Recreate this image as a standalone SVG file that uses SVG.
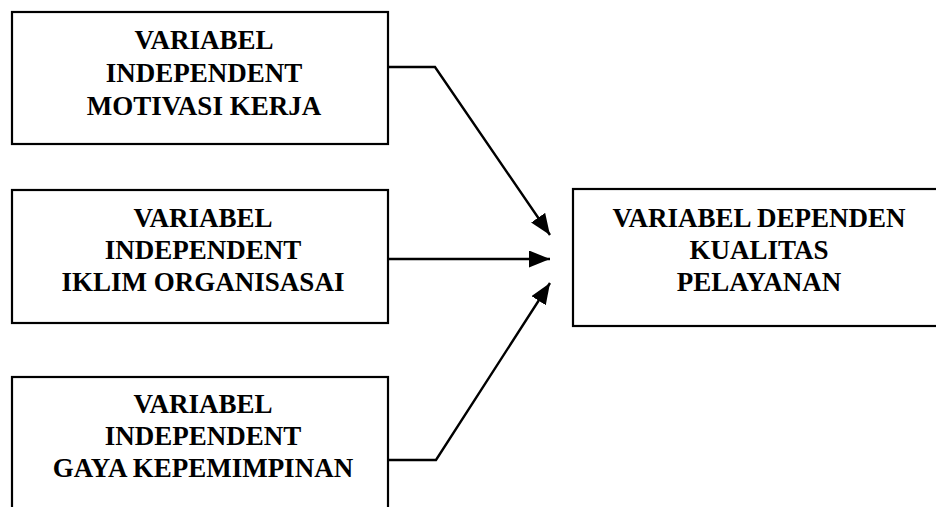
<svg xmlns="http://www.w3.org/2000/svg" width="936" height="507" viewBox="0 0 936 507">
  <style>
    .box { fill: #ffffff; stroke: #000000; stroke-width: 2.2; }
    .lbl { font-family: "Liberation Serif", "Times New Roman", serif; font-weight: bold; font-size: 27px; fill: #000000; text-anchor: middle; }
    .conn { fill: none; stroke: #000000; stroke-width: 2.4; stroke-linejoin: miter; }
  </style>
  <defs>
    <marker id="arrow" markerUnits="userSpaceOnUse" markerWidth="22" markerHeight="18" refX="21" refY="8.5" orient="auto">
      <path d="M0,0 L21,8.5 L0,17 z" fill="#000000"/>
    </marker>
  </defs>
  <rect width="936" height="507" fill="#ffffff"/>

  <g id="node-motivasi">
    <rect class="box" x="12" y="12" width="376" height="132"/>
    <text class="lbl" x="204" y="49">VARIABEL</text>
    <text class="lbl" x="204" y="82">INDEPENDENT</text>
    <text class="lbl" x="204" y="115">MOTIVASI KERJA</text>
  </g>

  <g id="node-iklim">
    <rect class="box" x="12" y="190" width="376" height="133"/>
    <text class="lbl" x="203" y="227">VARIABEL</text>
    <text class="lbl" x="203" y="259">INDEPENDENT</text>
    <text class="lbl" x="203" y="291">IKLIM ORGANISASAI</text>
  </g>

  <g id="node-gaya">
    <rect class="box" x="12" y="377" width="376" height="140"/>
    <text class="lbl" x="203" y="413">VARIABEL</text>
    <text class="lbl" x="203" y="445">INDEPENDENT</text>
    <text class="lbl" x="203" y="477">GAYA KEPEMIMPINAN</text>
  </g>

  <g id="node-kualitas">
    <rect class="box" x="573" y="189" width="370" height="137"/>
    <text class="lbl" x="759" y="227">VARIABEL DEPENDEN</text>
    <text class="lbl" x="759" y="259">KUALITAS</text>
    <text class="lbl" x="759" y="291">PELAYANAN</text>
  </g>

  <g id="connectors">
    <polyline class="conn" points="388,67 435,67 550,235" marker-end="url(#arrow)"/>
    <polyline class="conn" points="388,259 550,259" marker-end="url(#arrow)"/>
    <polyline class="conn" points="388,460 436,460 550,283" marker-end="url(#arrow)"/>
  </g>
</svg>
